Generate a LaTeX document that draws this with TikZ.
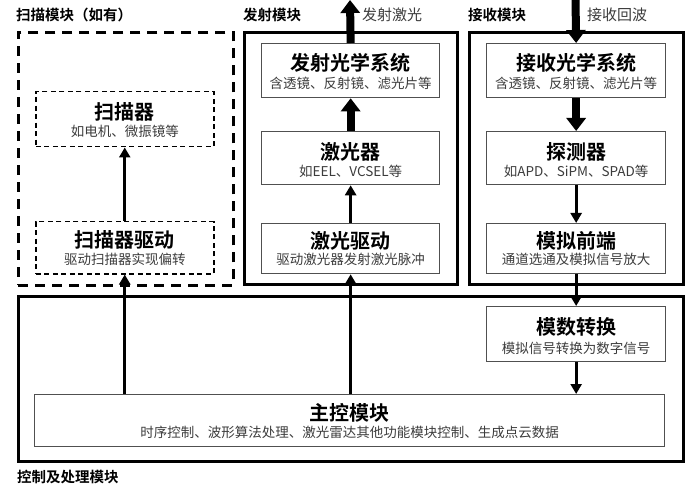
\documentclass[tikz,border=0pt]{standalone}
\usepackage{fontspec}
\setmainfont{Noto Sans CJK SC}[BoldFont={Noto Sans CJK SC Bold}]
\usetikzlibrary{arrows.meta,calc}
\definecolor{subgray}{HTML}{3C3C3C}
\definecolor{boxgray}{HTML}{505050}
\begin{document}
\begin{tikzpicture}[x=1pt,y=-1pt,
 outer/.style={draw=black,line width=3pt,inner sep=0,anchor=north west},
 souter/.style={draw=black,line width=2.8pt,dash pattern=on 10pt off 7pt,inner sep=0,anchor=north west},
 ibox/.style={draw=boxgray,line width=1.3pt,inner sep=0,anchor=north west},
 dbox/.style={draw=black,line width=1.5pt,dash pattern=on 5pt off 3.5pt,inner sep=0,anchor=north west},
 ttl/.style={font=\bfseries\fontsize{20}{22}\selectfont,inner sep=0},
 subt/.style={font=\fontsize{13.5}{15}\selectfont,text=subgray,inner sep=0},
 mlabel/.style={font=\bfseries\fontsize{14.5}{16}\selectfont,inner sep=0,anchor=west},
 elabel/.style={font=\fontsize{15}{17}\selectfont,text=subgray,inner sep=0},
 flow/.style={line width=3pt,-{Triangle[width=11pt,length=10pt]}},
 bigflow/.style={line width=8pt,-{Triangle[width=19pt,length=13pt]}},
]
\useasboundingbox (0,0) rectangle (694,500);
\fill[white] (0,0) rectangle (694,500);

% module frames
\node[souter, minimum width=215pt, minimum height=253pt] (scanmod) at (17,31) {};
\node[outer, minimum width=213pt, minimum height=252pt] (emitmod) at (243,31) {};
\node[outer, minimum width=214pt, minimum height=252pt] (recvmod) at (468,31) {};
\node[outer, minimum width=665pt, minimum height=165pt] (ctrlmod) at (17,295) {};

\node[mlabel] (lscan) at (16,15) {扫描模块（如有）};
\node[mlabel] (lemit) at (243,15) {发射模块};
\node[mlabel] (lrecv) at (468,15) {接收模块};
\node[mlabel] (lctrl) at (17,477) {控制及处理模块};

% scan module
\node[dbox, minimum width=178pt, minimum height=55pt] (scanner) at (35,91) {};
\node[ttl] (t1) at ($(scanner.north)+(0,21)$) {扫描器};
\node[subt] (s1) at ($(scanner.north)+(0,40)$) {如电机、微振镜等};
\node[dbox, minimum width=178pt, minimum height=52pt] (sdrv) at (35,221) {};
\node[ttl] (t2) at ($(sdrv.north)+(0,19)$) {扫描器驱动};
\node[subt] (s2) at ($(sdrv.north)+(0,38)$) {驱动扫描器实现偏转};

% emission module
\node[ibox, minimum width=178pt, minimum height=54pt] (eo) at (261,43) {};
\node[ttl] (t3) at ($(eo.north)+(0,20)$) {发射光学系统};
\node[subt] (s3) at ($(eo.north)+(0,40)$) {含透镜、反射镜、滤光片等};
\node[ibox, minimum width=178pt, minimum height=53pt] (laser) at (261,131) {};
\node[ttl] (t4) at ($(laser.north)+(0,21)$) {激光器};
\node[subt] (s4) at ($(laser.north)+(0,40)$) {如EEL、VCSEL等};
\node[ibox, minimum width=178pt, minimum height=50pt] (ldrv) at (261,223) {};
\node[ttl] (t5) at ($(ldrv.north)+(0,18)$) {激光驱动};
\node[subt] (s5) at ($(ldrv.north)+(0,36)$) {驱动激光器发射激光脉冲};

% receive module
\node[ibox, minimum width=179pt, minimum height=54pt] (ro) at (486,43) {};
\node[ttl] (t6) at ($(ro.north)+(0,20)$) {接收光学系统};
\node[subt] (s6) at ($(ro.north)+(0,40)$) {含透镜、反射镜、滤光片等};
\node[ibox, minimum width=179pt, minimum height=53pt] (det) at (486,131) {};
\node[ttl] (t7) at ($(det.north)+(0,21)$) {探测器};
\node[subt] (s7) at ($(det.north)+(0,40)$) {如APD、SiPM、SPAD等};
\node[ibox, minimum width=179pt, minimum height=50pt] (afe) at (486,223) {};
\node[ttl] (t8) at ($(afe.north)+(0,18)$) {模拟前端};
\node[subt] (s8) at ($(afe.north)+(0,36)$) {通道选通及模拟信号放大};

% control module
\node[ibox, minimum width=179pt, minimum height=55pt] (adc) at (486,306) {};
\node[ttl] (t9) at ($(adc.north)+(0,21)$) {模数转换};
\node[subt] (s9) at ($(adc.north)+(0,42)$) {模拟信号转换为数字信号};
\node[ibox, minimum width=630pt, minimum height=52pt] (main) at (34,394) {};
\node[ttl] (t10) at ($(main.north)+(0,19)$) {主控模块};
\node[subt] (s10) at ($(main.north)+(0,38)$) {时序控制、波形算法处理、激光雷达其他功能模块控制、生成点云数据};

% connectors
\coordinate (laserout) at (350,0);
\coordinate (echoin) at (575.5,0);
\draw[bigflow] (eo.north) -- (laserout);
\node[elabel] (lout) at (392,15) {发射激光};
\draw[bigflow] (laser.north) -- (eo.south);
\draw[flow] (ldrv.north) -- (laser.south);
\draw[flow] (main.north -| ldrv.south) -- (ldrv.south);
\draw[flow] (main.north -| sdrv.south) -- (sdrv.south);
\draw[flow] (sdrv.north) -- (scanner.south);
\draw[bigflow] (echoin) -- (ro.north);
\node[elabel] (lin) at (617,15) {接收回波};
\draw[bigflow] (ro.south) -- (det.north);
\draw[flow] (det.south) -- (afe.north);
\draw[flow] (afe.south) -- (adc.north);
\draw[flow] (adc.south) -- (adc.south |- main.north);
\end{tikzpicture}
\end{document}
